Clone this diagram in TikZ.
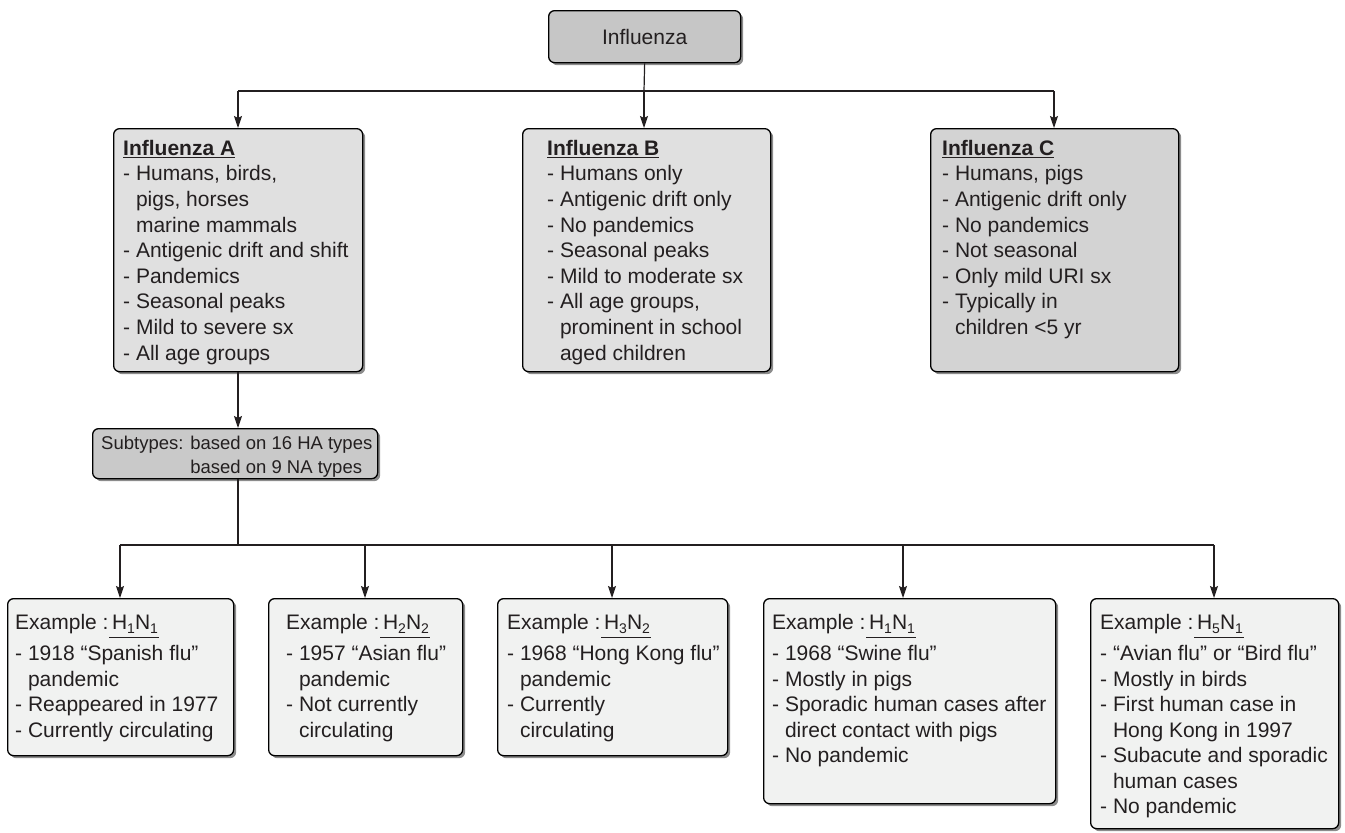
\documentclass[tikz,border=0pt]{standalone}
\usepackage{fontspec}
\setmainfont{Liberation Sans}
\usetikzlibrary{arrows.meta,shadows}
\definecolor{ink}{HTML}{231F20}
\definecolor{topfill}{HTML}{C6C6C6}
\definecolor{abfill}{HTML}{E0E0E0}
\definecolor{cfill}{HTML}{D3D3D3}
\definecolor{subfill}{HTML}{C9C9C9}
\definecolor{exfill}{HTML}{F1F2F1}
\newcommand\ind{\hphantom{-\ }}
\newcommand\hn[2]{\setbox0=\hbox{H\raisebox{-4.5pt}{\fontsize{14}{14}\selectfont #1}N\raisebox{-4.5pt}{\fontsize{14}{14}\selectfont #2}}\rlap{\kern-3pt\rule[-9pt]{\dimexpr\wd0+4pt\relax}{1.3pt}}\box0}
\tikzset{
  box/.style={draw=black, line width=1.3pt, rounded corners=6pt, anchor=north west, inner sep=0pt,
    drop shadow={shadow xshift=2.5pt, shadow yshift=-2.5pt, fill=black!45, opacity=1}},
  txt/.style={anchor=north west, inner sep=0pt, align=left, text=ink, font=\fontsize{21}{25.6}\selectfont},
  extxt/.style={anchor=north west, inner sep=0pt, align=left, text=ink, font=\fontsize{21}{25.5}\selectfont},
  ln/.style={line width=1.2pt, draw=ink},
  arr/.style={line width=1.2pt, draw=ink, -{Stealth[length=12pt,width=8pt,inset=2pt]}},
}
\begin{document}
\begin{tikzpicture}[x=1pt,y=-1pt]
\useasboundingbox (0,0) rectangle (1345,833);
% boxes
\node[box, fill=topfill, minimum width=192pt, minimum height=52pt, text=ink, font=\fontsize{21}{25}\selectfont] (top) at (548,10) {Influenza};
\node[box, fill=abfill, minimum width=249pt, minimum height=243pt] (A) at (113,128) {};
\node[box, fill=abfill, minimum width=248pt, minimum height=243pt] (B) at (522,128) {};
\node[box, fill=cfill, minimum width=248pt, minimum height=243pt] (C) at (930,128) {};
\node[box, fill=subfill, minimum width=285pt, minimum height=50pt] (sub) at (92,428) {};
\node[box, fill=exfill, minimum width=226pt, minimum height=157pt] (e1) at (7,598) {};
\node[box, fill=exfill, minimum width=194pt, minimum height=157pt] (e2) at (268,598) {};
\node[box, fill=exfill, minimum width=230pt, minimum height=157pt] (e3) at (497,598) {};
\node[box, fill=exfill, minimum width=292pt, minimum height=205pt] (e4) at (763,598) {};
\node[box, fill=exfill, minimum width=248pt, minimum height=230pt] (e5) at (1090,598) {};
% texts
\node[txt] (tA) at (123,137.1) {\strut\underline{\textbf{Influenza A}}\\- Humans, birds,\\\ind pigs, horses\\\ind marine mammals\\- Antigenic drift and shift\\- Pandemics\\- Seasonal peaks\\- Mild to severe sx\\- All age groups};
\node[txt] (tB) at (547,137.1) {\strut\underline{\textbf{Influenza B}}\\- Humans only\\- Antigenic drift only\\- No pandemics\\- Seasonal peaks\\- Mild to moderate sx\\- All age groups,\\\ind prominent in school\\\ind aged children};
\node[txt] (tC) at (942,137.1) {\strut\underline{\textbf{Influenza C}}\\- Humans, pigs\\- Antigenic drift only\\- No pandemics\\- Not seasonal\\- Only mild URI sx\\- Typically in\\\ind children <5 yr};
\node[anchor=north west, inner sep=0pt, align=left, text=ink, font=\fontsize{18.5}{24}\selectfont] (tS) at (101,432.2) {\strut Subtypes: based on 16 HA types\\\hphantom{Subtypes: }based on 9 NA types};
\node[extxt] (t1) at (15,611) {\strut Example :\,\hn{1}{1}\\[6pt]- 1918 “Spanish flu”\\\ind pandemic\\- Reappeared in 1977\\- Currently circulating};
\node[extxt] (t2) at (286,611) {\strut Example :\,\hn{2}{2}\\[6pt]- 1957 “Asian flu”\\\ind pandemic\\- Not currently\\\ind circulating};
\node[extxt] (t3) at (507,611) {\strut Example :\,\hn{3}{2}\\[6pt]- 1968 “Hong Kong flu”\\\ind pandemic\\- Currently\\\ind circulating};
\node[extxt] (t4) at (772,611) {\strut Example :\,\hn{1}{1}\\[6pt]- 1968 “Swine flu”\\- Mostly in pigs\\- Sporadic human cases after\\\ind direct contact with pigs\\- No pandemic};
\node[extxt] (t5) at (1100,611) {\strut Example :\,\hn{5}{1}\\[6pt]- “Avian flu” or “Bird flu”\\- Mostly in birds\\- First human case in\\\ind Hong Kong in 1997\\- Subacute and sporadic\\\ind human cases\\- No pandemic};
% connectors top
\coordinate (j1) at (644,91);
\coordinate (hL) at (238,91);
\coordinate (hR) at (1054,91);
\draw[ln] (top.south) -- (j1);
\draw[ln] (hL) -- (hR);
\draw[arr] (hL) -- (hL |- A.north);
\draw[arr] (j1) -- (j1 |- B.north);
\draw[arr] (hR) -- (hR |- C.north);
\draw[arr] (hL |- A.south) -- (hL |- sub.north);
% connectors bottom
\coordinate (j2) at (238,545);
\coordinate (b1) at (120,545);
\coordinate (b2) at (365,545);
\coordinate (b3) at (612,545);
\coordinate (b4) at (903,545);
\coordinate (b5) at (1214,545);
\draw[ln] (hL |- sub.south) -- (j2);
\draw[ln] (b1) -- (b5);
\draw[arr] (b1) -- (b1 |- e1.north);
\draw[arr] (b2) -- (b2 |- e2.north);
\draw[arr] (b3) -- (b3 |- e3.north);
\draw[arr] (b4) -- (b4 |- e4.north);
\draw[arr] (b5) -- (b5 |- e5.north);
\end{tikzpicture}
\end{document}
